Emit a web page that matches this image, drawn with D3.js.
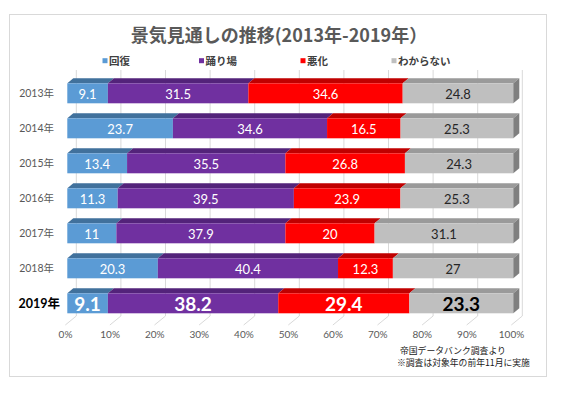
<!DOCTYPE html>
<html><head><meta charset="utf-8">
<script src="https://cdn.jsdelivr.net/npm/d3@7"></script>
<style>
html,body{margin:0;padding:0;background:#fff;}
svg{display:block;}
</style></head>
<body>
<svg id="c" width="564" height="394"></svg>
<script>
const years = ["2013年","2014年","2015年","2016年","2017年","2018年","2019年"];
const seriesNames = ["回復","踊り場","悪化","わからない"];
const recovery = [9.1, 23.7, 13.4, 11.3, 11, 20.3, 9.1];
const plateau  = [31.5, 34.6, 35.5, 39.5, 37.9, 40.4, 38.2];
const worse    = [34.6, 16.5, 26.8, 23.9, 20, 12.3, 29.4];
const unknown  = [24.8, 25.3, 24.3, 25.3, 31.1, 27, 23.3];
const tickValues = [0,0.1,0.2,0.3,0.4,0.5,0.6,0.7,0.8,0.9,1];
const titleText = "景気見通しの推移(2013年-2019年）";
const noteLines = ["帝国データバンク調査より","※調査は対象年の前年11月に実施"];

const frontColors = ["#5B9BD5","#7030A0","#FF0000","#BFBFBF"];
const topColors   = ["#41719C","#53237A","#C00000","#9A9A9A"];
const sideColor = "#7F7F7F";
const labelColors = ["#ffffff","#ffffff","#ffffff","#262626"];

const FONT = "Lato, 'Noto Sans CJK JP', sans-serif";
const JP = "'Noto Sans CJK JP', sans-serif";

const svg = d3.select("#c");
const seriesData = [recovery, plateau, worse, unknown];

const x = d3.scaleLinear().domain([0,1]).range([67.3, 513.3]);
const y = d3.scaleBand().domain(years).range([75.8, 320.8]).paddingInner(15/35).paddingOuter(7.5/35);
const bw = y.bandwidth();
const bdx = 6, bdy = 5;      // bar depth offset
const wdx = 9, wdy = 8;      // back wall offset
const floorY = 324;

// frame
svg.append("rect").attr("x",9.5).attr("y",14.5).attr("width",537).attr("height",362)
  .attr("fill","#fff").attr("stroke","#D9D9D9").attr("stroke-width",1);

// title
svg.append("text").attr("x",279).attr("y",33.5).attr("text-anchor","middle")
  .attr("dominant-baseline","central")
  .attr("font-family",JP).attr("font-size",18).attr("font-weight","bold")
  .attr("fill","#595959").text(titleText);

// legend
const legX = [105, 201.5, 303, 394];
seriesNames.forEach((n,i)=>{
  const g = svg.append("g");
  g.append("rect").attr("x",legX[i]-2.5).attr("y",58.2).attr("width",5).attr("height",5).attr("fill",frontColors[i]);
  g.append("text").attr("x",legX[i]+4).attr("y",60.7).attr("dominant-baseline","central")
    .attr("font-family",JP).attr("font-size",10.5).attr("font-weight","bold").attr("fill","#404040").text(n);
});

// gridlines (back wall) and floor lines
const grid = svg.append("g");
tickValues.forEach(v=>{
  const xb = x(v)+wdx;
  grid.append("line").attr("x1",xb).attr("x2",xb).attr("y1",70).attr("y2",floorY-wdy)
    .attr("stroke","#D9D9D9").attr("stroke-width",1);
  grid.append("line").attr("x1",xb).attr("y1",floorY-wdy).attr("x2",x(v)-2).attr("y2",floorY+1)
    .attr("stroke","#D9D9D9").attr("stroke-width",1);
});

// axis labels
const axis = d3.axisBottom(d3.scaleLinear().domain([0,1]).range([x(0)-2.3, x(1)-2.3]))
  .tickValues(tickValues).tickFormat(d3.format(".0%")).tickSize(0).tickPadding(0);
const ag = svg.append("g").attr("transform",`translate(0,331)`).call(axis);
ag.select(".domain").remove();
ag.selectAll("text").attr("font-family",FONT).attr("font-size",10).attr("fill","#595959");

// bars
years.forEach((yr,i)=>{
  const vals = seriesData.map(s=>s[i]);
  const total = d3.sum(vals);
  const isLast = i === years.length-1;
  let cum = 0;
  const y0 = y(yr);
  const g = svg.append("g");
  vals.forEach((v,k)=>{
    const a = x(cum/total), b = x((cum+v)/total);
    cum += v;
    g.append("path").attr("d",`M${a},${y0}L${b},${y0}L${b+bdx},${y0-bdy}L${a+bdx},${y0-bdy}Z`)
      .attr("fill",topColors[k]);
    g.append("rect").attr("x",a).attr("y",y0).attr("width",b-a).attr("height",bw).attr("fill",frontColors[k]);
    if(k===vals.length-1){
      g.append("path").attr("d",`M${b},${y0}L${b+bdx},${y0-bdy}L${b+bdx},${y0+bw-bdy}L${b},${y0+bw}Z`)
        .attr("fill",sideColor);
    }
    g.append("text").attr("x",(a+b)/2).attr("y",y0+bw/2+0.5)
      .attr("text-anchor","middle").attr("dominant-baseline","central")
      .attr("font-family",FONT)
      .attr("font-size",isLast?19:13).attr("font-weight",isLast?"bold":"normal")
      .attr("fill", isLast && k===3 ? "#000" : labelColors[k])
      .text(v);
  });
  svg.append("text").attr("x",isLast?60:54).attr("y",y0+bw/2)
    .attr("text-anchor","end").attr("dominant-baseline","central")
    .attr("font-family",FONT).attr("font-size",isLast?12.5:10.5)
    .attr("font-weight",isLast?"bold":"normal")
    .attr("fill",isLast?"#000":"#595959").text(yr);
});

// notes
noteLines.forEach((t,i)=>{
  svg.append("text").attr("x",i===0?400:397).attr("y",i===0?350.2:362.2).attr("dominant-baseline","central")
    .attr("font-family",JP).attr("font-size",8.8).attr("fill","#1a1a1a").text(t);
});
</script>
</body></html>
